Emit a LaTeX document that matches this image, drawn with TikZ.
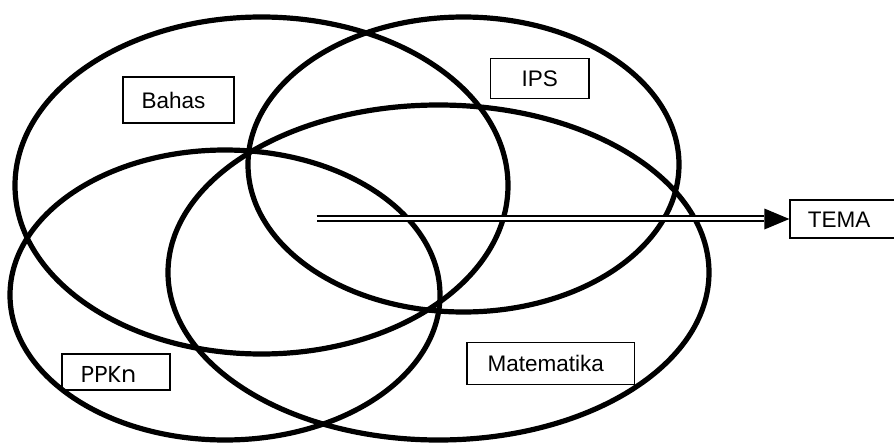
\documentclass[tikz,border=0pt]{standalone}
\usepackage{fontspec}
\setmainfont{Liberation Sans}
\newfontfamily\ppkfont{Poppins}
\begin{document}
\begin{tikzpicture}[x=1pt,y=-1pt,
  ring/.style={draw=black,line width=5.2pt},
  lbl/.style={draw=black,line width=1.3pt,fill=none,inner sep=0pt,
    font=\fontsize{22.5}{26}\selectfont,text height=16pt,text depth=0pt},
  dbl/.style={draw=black,double=white,line width=1.7pt,double distance=3.8pt}]
\useasboundingbox (0,0) rectangle (894,444);
\clip (0,0) rectangle (894,444);
\fill[white] (0,0) rectangle (894,444);
% circles
\draw[ring] (261.5,185.5) ellipse [x radius=246.5pt, y radius=168.5pt];
\draw[ring] (463.5,164.5) ellipse [x radius=215.5pt, y radius=147.5pt];
\draw[ring] (225,295) ellipse [x radius=215pt, y radius=145pt];
\draw[ring] (438.5,272.5) ellipse [x radius=270.5pt, y radius=167.5pt];
% labels
\node[lbl,minimum width=111pt,minimum height=46pt] (bahas) at (178.5,100) {\hspace*{-10pt}Bahas};
\node[lbl,minimum width=98.5pt,minimum height=39.5pt] (ips) at (539.75,78.5) {IPS};
\node[lbl,minimum width=167.5pt,minimum height=42pt] (mat) at (550.75,363.5) {\hspace*{-10pt}Matematika};
\node[lbl,minimum width=108pt,minimum height=36pt,font=\ppkfont\fontsize{23}{26}\selectfont,
  text height=28pt,text depth=8pt] (ppkn) at (116,372) {\hspace*{-15pt}PPKn};
\node[lbl,minimum width=112pt,minimum height=38pt] (tema) at (846,219) {\hspace*{-14pt}TEMA};
% arrow
\coordinate (src) at (316.7,218.5);
\coordinate (base) at ([xshift=-25pt]tema.west);
\draw[dbl] (src) -- (src -| base);
\fill[black] (tema.west) -- ([yshift=-10.5pt]base) -- ([yshift=10.5pt]base) -- cycle;
\end{tikzpicture}
\end{document}
